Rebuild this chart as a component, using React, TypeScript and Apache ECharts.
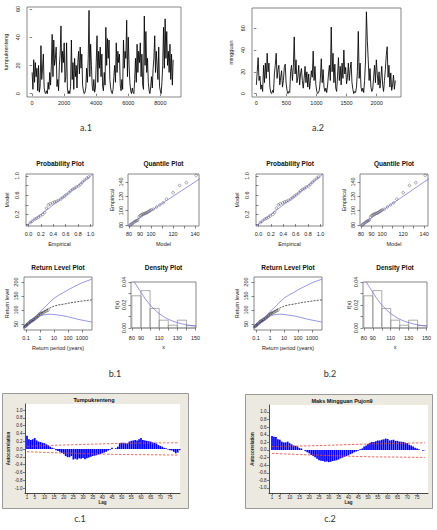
import React, { useEffect, useRef } from 'react';
import * as echarts from 'echarts';

// ---------- a.1 : daily series (sampled every 50 steps) ----------
const a1Step = 50;
const a1Values = [
  15, 3, 24, 8, 22, 12, 18, 2, 20, 1, 5, 34, 10, 18, 28, 4, 1, 0, 2, 0,
  8, 3, 15, 6, 20, 42, 12, 38, 20, 25, 33, 5, 10, 2, 20, 28, 48, 15, 30, 22,
  36, 8, 12, 36, 4, 0, 2, 0, 5, 38, 10, 22, 3, 25, 12, 20, 4, 22, 30, 14,
  33, 18, 28, 6, 2, 0, 1, 4, 18, 8, 25, 59, 12, 35, 20, 5, 2, 10, 1, 4,
  22, 41, 8, 30, 18, 33, 12, 28, 5, 2, 15, 6, 47, 20, 39, 25, 38, 10, 4, 1,
  0, 3, 12, 20, 8, 36, 15, 30, 22, 28, 6, 2, 10, 3, 38, 18, 30, 25, 52, 12,
  40, 20, 8, 2, 0, 4, 1, 0, 10, 25, 8, 35, 15, 30, 22, 36, 12, 28, 6, 3,
  55, 20, 44, 15, 25, 8, 2, 0, 5, 12, 4, 18, 25, 41, 15, 30, 20, 10, 33, 5,
  2, 0, 8, 20, 47, 18, 53, 25, 44, 20, 30, 15, 35, 10, 28, 6, 24,
];
const a1XTicks = [0, 2000, 4000, 6000, 8000];
const a1YTicks = [0, 20, 40, 60];

// ---------- a.2 : series (sampled every 15 steps) ----------
const a2Step = 15;
const a2Values = [
  8, 20, 33, 12, 16, 4, 8, 2, 26, 10, 28, 14, 37, 20, 28, 6, 1, 0, 3, 1,
  18, 26, 37, 14, 22, 26, 8, 15, 21, 6, 12, 24, 27, 10, 3, 0, 2, 1, 20, 26,
  12, 24, 52, 18, 31, 10, 15, 26, 8, 18, 23, 12, 5, 14, 25, 10, 20, 6, 18, 4,
  12, 21, 15, 39, 12, 25, 8, 2, 0, 1, 4, 14, 32, 10, 22, 6, 2, 5, 1, 8,
  18, 26, 12, 61, 20, 37, 10, 27, 5, 2, 16, 33, 12, 25, 8, 28, 14, 40, 18, 24,
  9, 15, 28, 12, 22, 29, 10, 4, 0, 2, 1, 6, 20, 57, 14, 28, 6, 2, 5, 1,
  12, 30, 75, 49, 31, 12, 23, 6, 2, 4, 15, 26, 10, 31, 18, 8, 20, 5, 14, 25,
  8, 2, 12, 22, 35, 43, 15, 26, 6, 19, 3, 8, 17, 4, 12,
];
const a2XTicks = [0, 500, 1000, 1500, 2000];
const a2YTicks = [0, 20, 40, 60];

// ---------- b : GEV diagnostics ----------
const probEmpirical = [0.03, 0.06, 0.10, 0.13, 0.16, 0.19, 0.23, 0.26, 0.29, 0.32, 0.35, 0.39, 0.42, 0.45, 0.48,
  0.52, 0.55, 0.58, 0.61, 0.65, 0.68, 0.71, 0.74, 0.77, 0.81, 0.84, 0.87, 0.90, 0.94, 0.97];
const probModel = [0.03, 0.06, 0.10, 0.12, 0.14, 0.17, 0.20, 0.24, 0.33, 0.40, 0.42, 0.44, 0.46, 0.47, 0.49,
  0.52, 0.55, 0.58, 0.61, 0.65, 0.69, 0.72, 0.74, 0.77, 0.79, 0.83, 0.87, 0.91, 0.95, 0.98];
const probTicks = [0, 0.2, 0.4, 0.6, 0.8, 1.0];
const probYLabels = [0.2, 0.6, 1.0];

const quantModel = [81, 82, 83, 84, 85, 86, 87, 88, 89, 90, 91, 92, 93, 94, 95, 96, 97, 98, 99, 100,
  102, 105, 108, 111, 114, 120, 126, 132, 141];
const quantEmpirical = [80, 81, 82, 83.5, 84.5, 85.5, 86, 87, 91, 93, 94, 95, 95.5, 96, 96.5, 97, 98, 99, 100, 101,
  102, 105, 108, 111, 116, 125, 135, 139, 149];
const quantXTicks = [80, 90, 100, 110, 120, 130, 140];
const quantXLabels = [80, 90, 100, 120, 140];
const quantYTicks = [80, 100, 120, 140];

const rlPeriods = [0.07, 0.1, 0.2, 0.3, 0.5, 1, 2, 5, 10, 20, 50, 100, 200, 500, 1000, 2000, 5000];
const rlCentral = [38, 45, 56, 63, 72, 85, 96, 107, 114, 118, 121, 124, 127, 130, 132, 134, 136];
const rlUpper = [40, 47, 60, 68, 78, 94, 108, 128, 142, 152, 163, 172, 180, 190, 197, 203, 210];
const rlLower = [36, 43, 52, 58, 66, 78, 83, 85, 84, 82, 79, 76, 72, 67, 64, 61, 57];
const rlPointPeriods = [0.07, 0.08, 0.09, 0.1, 0.11, 0.12, 0.13, 0.15, 0.17, 0.19, 0.21, 0.24, 0.27, 0.3, 0.34,
  0.38, 0.43, 0.49, 0.56, 0.64, 0.73, 0.84, 0.97, 1.13, 1.33, 1.6, 1.95, 2.4, 3.0, 3.8];
const rlPointLevels = [38, 40, 42, 44, 46, 48, 50, 52, 55, 57, 60, 61, 62, 64, 66, 67, 69, 72, 74, 77,
  79, 82, 85, 87, 89, 90, 92, 95, 97, 100];
const rlYTicks = [50, 100, 150, 200];

const histEdges = [80, 90, 100, 110, 120, 130, 140, 150];
const histHeights = [0.028, 0.0325, 0.017, 0.0068, 0.0024, 0.0068, 0.0021];
const densX = [80, 82, 85, 90, 95, 100, 105, 110, 115, 120, 125, 130, 135, 140, 145, 150];
const densY = [0.044, 0.041, 0.037, 0.031, 0.025, 0.020, 0.016, 0.0125, 0.0098, 0.0076, 0.006, 0.0047, 0.0036, 0.0028, 0.0021, 0.0016];
const densXTicks = [80, 90, 100, 110, 120, 130, 140, 150];
const densXLabels = [80, 90, 110, 130, 150];
const densYTicks = [0, 0.01, 0.02, 0.03, 0.04];
const densYLabels = [0, 0.02, 0.04];

// ---------- c : ACF ----------
const c1Acf = [
  0.34, 0.25, 0.23, 0.25, 0.28, 0.22, 0.19, 0.18, 0.16, 0.15, 0.12, 0.09, 0.06, 0.03, 0.01, -0.03, -0.05, -0.07, -0.10, -0.13,
  -0.18, -0.21, -0.21, -0.18, -0.27, -0.25, -0.27, -0.24, -0.25, -0.23, -0.26, -0.24, -0.22, -0.20, -0.18, -0.17, -0.16, -0.14, -0.13, -0.11,
  -0.09, -0.07, -0.04, -0.02, 0.03, 0.0, 0.02, 0.06, 0.15, 0.16, 0.16, 0.15, 0.14, 0.19, 0.21, 0.22, 0.23, 0.22, 0.25, 0.28,
  0.23, 0.22, 0.21, 0.20, 0.19, 0.17, 0.16, 0.14, 0.10, 0.08, 0.06, 0.03, 0.02, -0.01, -0.03, -0.04, -0.07, -0.11, -0.09, -0.03,
];
const c1LimitLags = [1, 15, 32, 49, 79];
const c1Upper = [0.07, 0.095, 0.12, 0.145, 0.16];
const c1Lower = [-0.07, -0.095, -0.12, -0.14, -0.155];

const c2Acf = [
  0.37, 0.35, 0.34, 0.28, 0.27, 0.22, 0.20, 0.20, 0.22, 0.18, 0.15, 0.12, 0.11, 0.09, 0.05, 0.04, 0.0, -0.03, -0.06, -0.09,
  -0.13, -0.16, -0.19, -0.23, -0.27, -0.28, -0.29, -0.31, -0.30, -0.32, -0.31, -0.29, -0.28, -0.27, -0.25, -0.22, -0.20, -0.18, -0.16, -0.14,
  -0.11, -0.09, -0.06, -0.04, -0.02, 0.02, 0.04, 0.09, 0.12, 0.16, 0.19, 0.21, 0.21, 0.23, 0.25, 0.25, 0.27, 0.28, 0.30, 0.29,
  0.25, 0.26, 0.27, 0.24, 0.24, 0.22, 0.22, 0.21, 0.19, 0.18, 0.14, 0.12, 0.09, 0.06, 0.04, 0.02, 0.0, -0.02, -0.01,
];
const c2LimitLags = [1, 25, 51, 79];
const c2Upper = [0.09, 0.115, 0.16, 0.19];
const c2Lower = [-0.09, -0.14, -0.18, -0.195];

const acfYTicks = [-1, -0.8, -0.6, -0.4, -0.2, 0, 0.2, 0.4, 0.6, 0.8, 1.0];
const acfLagTicks = [1, 5, 10, 15, 20, 25, 30, 35, 40, 45, 50, 55, 60, 65, 70, 75];

const R_FONT = '"Liberation Sans", Arial, sans-serif';
const BLUE = '#6a6ad8';

type AxOpt = {
  grid: number; min: number; max: number; ticks: number[]; labels?: number[];
  name?: string; nameGap?: number; margin: number; rotate?: number; fmt?: (v: number) => string;
  type?: string; fontSize?: number; minitab?: boolean; nameBold?: boolean;
};

function axis(o: AxOpt): any {
  const fs = o.fontSize ?? 5.5;
  return {
    type: o.type ?? 'value',
    gridIndex: o.grid,
    min: o.min,
    max: o.max,
    logBase: 10,
    name: o.name ?? '',
    nameLocation: 'middle',
    nameGap: o.nameGap ?? 10,
    nameTextStyle: { fontSize: fs, fontFamily: R_FONT, color: '#222', fontWeight: o.nameBold ? 'bold' : 'normal' },
    axisLine: o.minitab ? { show: true, onZero: false, lineStyle: { color: '#000', width: 0.7 } } : { show: false },
    axisTick: { show: true, length: o.minitab ? 2 : 2.5, customValues: o.ticks, lineStyle: { color: '#333', width: 0.6 } },
    axisLabel: {
      show: true,
      fontSize: fs,
      fontFamily: R_FONT,
      color: '#222',
      margin: o.margin,
      rotate: o.rotate ?? 0,
      customValues: o.labels ?? o.ticks,
      formatter: o.fmt ?? ((v: number) => String(v)),
      hideOverlap: false,
    },
    splitLine: { show: false },
  };
}

const rGrid = (left: number, top: number, width: number, height: number) => ({
  left, top, width, height, show: true, borderColor: '#555', borderWidth: 0.7, backgroundColor: 'transparent', containLabel: false,
});
const mGrid = (left: number, top: number, width: number, height: number) => ({
  left, top, width, height, show: true, borderWidth: 0, backgroundColor: '#fff', containLabel: false,
});

function buildOption(): any {
  const grids = [
    rGrid(27, 7, 154, 90), // 0 a1
    rGrid(252, 8, 149, 89), // 1 a2
    rGrid(26, 174, 67, 52), // 2 b1 prob
    rGrid(128, 174, 71, 52), // 3 b1 quant
    rGrid(24, 277, 68, 53), // 4 b1 rl
    rGrid(131, 282, 65, 46), // 5 b1 dens
    rGrid(256, 174, 67, 52), // 6 b2 prob
    rGrid(360, 174, 68, 52), // 7 b2 quant
    rGrid(254, 277, 68, 53), // 8 b2 rl
    rGrid(363, 282, 64, 46), // 9 b2 dens
    mGrid(25, 404, 155, 89), // 10 c1
    mGrid(269, 405, 159, 88), // 11 c2
  ];

  const f1 = (v: number) => v.toFixed(1);
  const f2 = (v: number) => v.toFixed(2);
  const xAxis: any[] = [];
  const yAxis: any[] = [];

  // a panels
  xAxis.push(axis({ grid: 0, min: -320, max: 9290, ticks: a1XTicks, margin: 3 }));
  yAxis.push(axis({ grid: 0, min: -2.4, max: 61.4, ticks: a1YTicks, margin: 6, rotate: 90, name: 'tumpukrenteng', nameGap: 18 }));
  xAxis.push(axis({ grid: 1, min: -72, max: 2405, ticks: a2XTicks, margin: 3 }));
  yAxis.push(axis({ grid: 1, min: -3.1, max: 78.5, ticks: a2YTicks, margin: 6, rotate: 90, name: 'mingguan', nameGap: 18 }));

  // b panels (two identical sets)
  [[2, 3, 4, 5], [6, 7, 8, 9]].forEach(([gp, gq, gr, gd]) => {
    xAxis.push(axis({ grid: gp, min: -0.04, max: 1.04, ticks: probTicks, margin: 5, fmt: f1, name: 'Empirical', nameGap: 15 }));
    yAxis.push(axis({ grid: gp, min: -0.04, max: 1.04, ticks: probTicks, labels: probYLabels, margin: 6, rotate: 90, fmt: f1, name: 'Model', nameGap: 16 }));
    xAxis.push(axis({ grid: gq, min: 79, max: 143.6, ticks: quantXTicks, labels: quantXLabels, margin: 5, name: 'Model', nameGap: 15 }));
    yAxis.push(axis({ grid: gq, min: 78.6, max: 151, ticks: quantYTicks, margin: 4, rotate: 90, name: 'Empirical', nameGap: 13 }));
    xAxis.push(axis({ grid: gr, type: 'log', min: 0.072, max: 5180, ticks: [0.1, 1, 10, 100, 1000], margin: 5, name: 'Return period (years)', nameGap: 15 }));
    yAxis.push(axis({ grid: gr, min: 28.6, max: 218, ticks: rlYTicks, margin: 5, rotate: 90, name: 'Return level', nameGap: 14 }));
    xAxis.push(axis({ grid: gd, min: 79, max: 150.5, ticks: densXTicks, labels: densXLabels, margin: 7, name: 'x', nameGap: 16 }));
    yAxis.push(axis({ grid: gd, min: 0, max: 0.04, ticks: densYTicks, labels: densYLabels, margin: 4, rotate: 90, fmt: f2, name: 'f(x)', nameGap: 9 }));
  });

  // c panels
  xAxis.push(axis({ grid: 10, min: -0.04, max: 80.2, ticks: acfLagTicks, margin: 1.5, fontSize: 4.5, minitab: true, name: 'Lag', nameGap: 5.5, nameBold: true }));
  yAxis.push(axis({ grid: 10, min: -1.128, max: 1.154, ticks: acfYTicks, margin: 2.5, fontSize: 4.5, fmt: f1, minitab: true, name: 'Autocorrelation', nameGap: 12, nameBold: true }));
  xAxis.push(axis({ grid: 11, min: -0.53, max: 80.6, ticks: acfLagTicks, margin: 1.5, fontSize: 4.5, minitab: true, name: 'Lag', nameGap: 5.5, nameBold: true }));
  yAxis.push(axis({ grid: 11, min: -1.132, max: 1.184, ticks: acfYTicks, margin: 2.5, fontSize: 4.5, fmt: f1, minitab: true, name: 'Autocorrelation', nameGap: 12, nameBold: true }));

  const series: any[] = [];
  const tsLine = (idx: number, vals: number[], step: number) => ({
    type: 'line', xAxisIndex: idx, yAxisIndex: idx, symbol: 'none', silent: true,
    data: vals.map((v, i) => [i * step, v]),
    lineStyle: { color: '#000', width: 0.85, opacity: 1 },
  });
  series.push(tsLine(0, a1Values, a1Step));
  series.push(tsLine(1, a2Values, a2Step));

  const pts = (idx: number, xs: number[], ys: number[]) => ({
    type: 'scatter', xAxisIndex: idx, yAxisIndex: idx, symbol: 'circle', symbolSize: 2.6, silent: true,
    data: xs.map((x, i) => [x, ys[i]]),
    itemStyle: { color: 'rgba(0,0,0,0)', borderColor: '#333', borderWidth: 0.5 },
  });
  const curve = (idx: number, xs: number[], ys: number[], color: string, dashed = false) => ({
    type: 'line', xAxisIndex: idx, yAxisIndex: idx, symbol: 'none', silent: true, smooth: false,
    data: xs.map((x, i) => [x, ys[i]]),
    lineStyle: { color, width: 0.7, type: dashed ? [2, 1.2] : 'solid' },
  });

  [2, 6].forEach((b) => {
    const p = b, q = b + 1, r = b + 2, d = b + 3;
    series.push(curve(p, [-0.04, 1.04], [-0.04, 1.04], BLUE));
    series.push(pts(p, probEmpirical, probModel));
    series.push(curve(q, [78, 145], [78, 145], BLUE));
    series.push(pts(q, quantModel, quantEmpirical));
    series.push(curve(r, rlPeriods, rlUpper, BLUE));
    series.push(curve(r, rlPeriods, rlLower, BLUE));
    series.push(curve(r, rlPeriods, rlCentral, '#111', true));
    series.push(pts(r, rlPointPeriods, rlPointLevels));
    series.push({
      type: 'custom', xAxisIndex: d, yAxisIndex: d, silent: true,
      data: histHeights.map((h, i) => [histEdges[i], histEdges[i + 1], h]),
      encode: { x: [0, 1], y: 2 },
      renderItem: (_params: any, api: any) => {
        const a = api.coord([api.value(0), api.value(2)]);
        const c = api.coord([api.value(1), 0]);
        return {
          type: 'rect',
          shape: { x: a[0], y: a[1], width: c[0] - a[0], height: c[1] - a[1] },
          style: { fill: 'none', stroke: '#8a8a8a', lineWidth: 0.7 },
        };
      },
    });
    series.push(curve(d, densX, densY, BLUE));
  });

  const acf = (idx: number, vals: number[]) => ({
    type: 'bar', xAxisIndex: idx, yAxisIndex: idx, silent: true, barWidth: 1.7,
    data: vals.map((v, i) => [i + 1, v]),
    itemStyle: { color: '#0000ff' },
  });
  const lim = (idx: number, lags: number[], vals: number[]) => ({
    type: 'line', xAxisIndex: idx, yAxisIndex: idx, symbol: 'none', silent: true, z: 5,
    data: lags.map((l, i) => [l, vals[i]]),
    lineStyle: { color: '#e4473a', width: 0.8, type: [2.5, 1.5] },
  });
  series.push(acf(10, c1Acf), lim(10, c1LimitLags, c1Upper), lim(10, c1LimitLags, c1Lower));
  series.push(acf(11, c2Acf), lim(11, c2LimitLags, c2Upper), lim(11, c2LimitLags, c2Lower));

  const txt = (text: string, x: number, y: number, size: number, bold = false, family = R_FONT, color = '#111') => ({
    type: 'text', x, y, silent: true,
    style: { text, fontSize: size, fontFamily: family, fontWeight: bold ? 'bold' : 'normal', fill: color, align: 'center', verticalAlign: 'middle' },
  });
  const frame = (x: number, y: number, w: number, h: number) => ({
    type: 'rect', z: -10, silent: true, shape: { x, y, width: w, height: h },
    style: { fill: '#ebe9e0', stroke: '#9a9a9a', lineWidth: 1 },
  });

  const LBL = 'Lato, "Open Sans", sans-serif';
  const graphic: any[] = [
    frame(2.5, 393.5, 186, 115),
    frame(245.5, 394.5, 187, 114),
    txt('Probability Plot', 60, 163, 6.5, true),
    txt('Quantile Plot', 163.5, 163, 6.5, true),
    txt('Return Level Plot', 58, 267, 6.5, true),
    txt('Density Plot', 163.5, 267, 6.5, true),
    txt('Probability Plot', 290, 163, 6.5, true),
    txt('Quantile Plot', 394, 163, 6.5, true),
    txt('Return Level Plot', 288, 267, 6.5, true),
    txt('Density Plot', 395, 267, 6.5, true),
    txt('Tumpukrenteng', 94, 399.5, 5.5, true),
    txt('Maks Mingguan Pujon9', 342, 401, 5.5, true),
    txt('a.1', 86, 127, 9, false, LBL, '#333'),
    txt('a.2', 318, 127, 9, false, LBL, '#333'),
    txt('b.1', 115, 373, 9, false, LBL, '#333'),
    txt('b.2', 330, 373, 9, false, LBL, '#333'),
    txt('c.1', 80, 518, 9, false, LBL, '#333'),
    txt('c.2', 330, 518, 9, false, LBL, '#333'),
  ];

  return { animation: false, backgroundColor: '#fff', grid: grids, xAxis, yAxis, series, graphic };
}

export default function App() {
  const ref = useRef<HTMLDivElement>(null);
  useEffect(() => {
    if (!ref.current) return;
    const chart = echarts.init(ref.current, null, { renderer: 'svg' });
    chart.setOption(buildOption());
    return () => chart.dispose();
  }, []);
  return <div ref={ref} style={{ position: 'absolute', left: 0, top: 0, width: 437, height: 530 }} />;
}
